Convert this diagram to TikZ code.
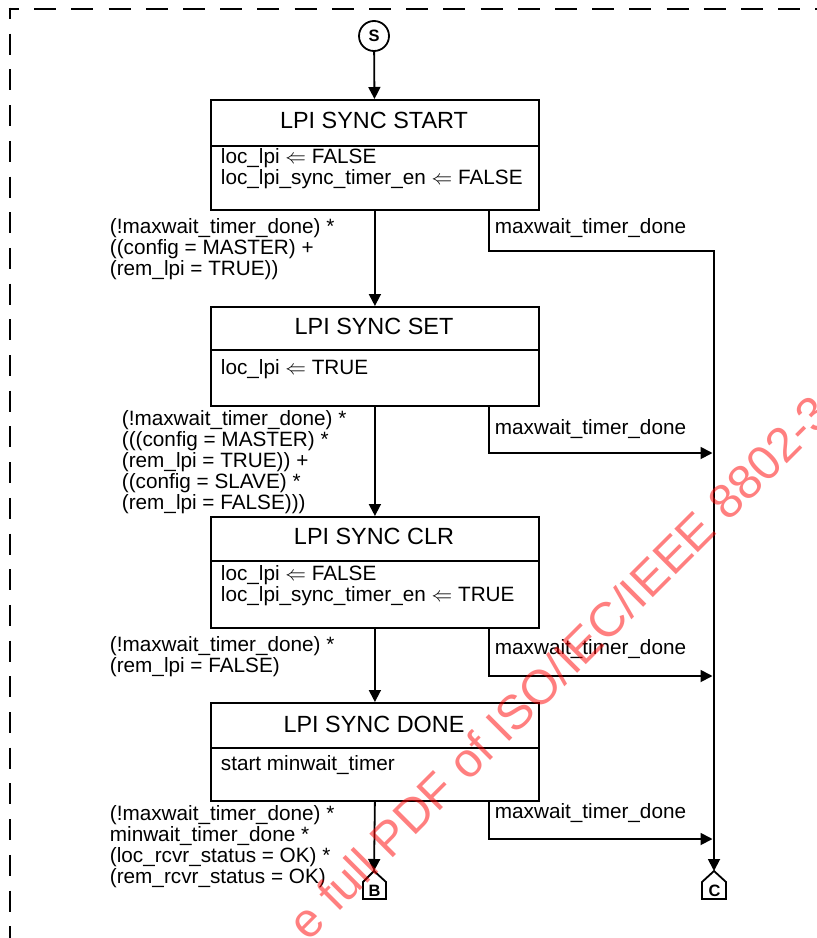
\documentclass[tikz,border=0pt]{standalone}
\usepackage{fontspec}
\setmainfont{Liberation Sans}
\usetikzlibrary{arrows.meta}
\begin{document}
\begin{tikzpicture}[x=1bp,y=-1bp,line width=1.8bp,
  arr/.style={-{Triangle[length=12bp,width=12bp]}},
  txt/.style={font=\fontsize{20.8}{21}\selectfont, inner sep=0pt, align=left, anchor=base west},
  ttl/.style={font=\fontsize{23.5}{24}\selectfont, inner sep=0pt, anchor=base},
  stbox/.style={draw, minimum width=328bp, inner sep=0pt, anchor=north west},
  lett/.style={font=\bfseries\fontsize{16.5}{17}\selectfont, inner sep=0pt},
  border/.style={line width=2.6bp}]
\useasboundingbox (0,0) rectangle (817,938);
% dashed frame
\draw[border, dash pattern=on 22bp off 15.2bp, dash phase=11.7bp] (8.7,9) -- (830,9);
\draw[border, dash pattern=on 21bp off 14.7bp, dash phase=9.7bp] (10,7.7) -- (10,950);
% start
\node[draw, circle, minimum size=30bp, lett] (S) at (374,36) {S};
% boxes
\node[stbox, minimum height=110bp] (b1) at (210,99) {};
\node[stbox, minimum height=99bp] (b2) at (210,306) {};
\node[stbox, minimum height=111bp] (b3) at (210,516) {};
\node[stbox, minimum height=98bp] (b4) at (210,702) {};
\coordinate (d1) at (0,146);
\coordinate (d2) at (0,350);
\coordinate (d3) at (0,561);
\coordinate (d4) at (0,748);
\draw (b1.west |- d1) -- (b1.east |- d1);
\draw (b2.west |- d2) -- (b2.east |- d2);
\draw (b3.west |- d3) -- (b3.east |- d3);
\draw (b4.west |- d4) -- (b4.east |- d4);
% titles
\node[ttl] (t1) at (374,128) {LPI SYNC START};
\node[ttl] (t2) at (374,334.5) {LPI SYNC SET};
\node[ttl] (t3) at (374,544.5) {LPI SYNC CLR};
\node[ttl] (t4) at (374,732.5) {LPI SYNC DONE};
% bodies (anchor = baseline of last line)
\node[txt] (a1) at (220,184) {loc\_lpi $\Leftarrow$ FALSE\\loc\_lpi\_sync\_timer\_en $\Leftarrow$ FALSE};
\node[txt] (a2) at (220,374.5) {loc\_lpi $\Leftarrow$ TRUE};
\node[txt] (a3) at (220,601.5) {loc\_lpi $\Leftarrow$ FALSE\\loc\_lpi\_sync\_timer\_en $\Leftarrow$ TRUE};
\node[txt] (a4) at (220,770) {start minwait\_timer};
% connection terminals
\coordinate (Btop) at (374,871);
\coordinate (Ctop) at (714,871);
\draw (363,899) -- (363,882) -- (Btop) -- (386,882) -- (386,899) -- cycle;
\draw (702,899) -- (702,882) -- (Ctop) -- (726,882) -- (726,899) -- cycle;
\node[lett] (B) at (374.5,890.5) {B};
\node[lett] (C) at (714.5,890.5) {C};
% main arrows
\draw[arr] (S) -- (b1);
\draw[arr] (b1) -- (b2);
\draw[arr] (b2) -- (b3);
\draw[arr] (b3) -- (b4);
\draw[arr] (b4.south) -- (Btop);
% branches
\coordinate (bx) at (489,0);
\coordinate (j1) at (714,251);
\coordinate (j2) at (712.5,453);
\coordinate (j3) at (712.5,676);
\coordinate (j4) at (712.5,839);
\draw[arr] (b1.south -| bx) |- (j1) -- (Ctop);
\draw[arr] (b2.south -| bx) |- (j2);
\draw[arr] (b3.south -| bx) |- (j3);
\draw[arr] (b4.south -| bx) |- (j4);
% branch labels
\node[txt] (m1) at (494,233.5) {maxwait\_timer\_done};
\node[txt] (m2) at (494,434) {maxwait\_timer\_done};
\node[txt] (m3) at (494,654.5) {maxwait\_timer\_done};
\node[txt] (m4) at (494,818.5) {maxwait\_timer\_done};
% condition labels (anchor = baseline of last line)
\node[txt] (c1) at (109,275.5) {(!maxwait\_timer\_done) *\\((config = MASTER) +\\(rem\_lpi = TRUE))};
\node[txt] (c2) at (121,509) {(!maxwait\_timer\_done) *\\(((config = MASTER) *\\(rem\_lpi = TRUE)) +\\((config = SLAVE) *\\(rem\_lpi = FALSE)))};
\node[txt] (c3) at (109,672.5) {(!maxwait\_timer\_done) *\\(rem\_lpi = FALSE)};
\node[txt] (c4) at (109,883) {(!maxwait\_timer\_done) *\\minwait\_timer\_done *\\(loc\_rcvr\_status = OK) *\\(rem\_rcvr\_status = OK)};
% watermark
\node[rotate=45, anchor=base west, text=red, opacity=0.5, inner sep=0pt,
      font=\fontsize{48.5}{48.5}\selectfont] (wm) at (308,943) {e full PDF of ISO/IEC/IEEE 8802-3};
\end{tikzpicture}
\end{document}
